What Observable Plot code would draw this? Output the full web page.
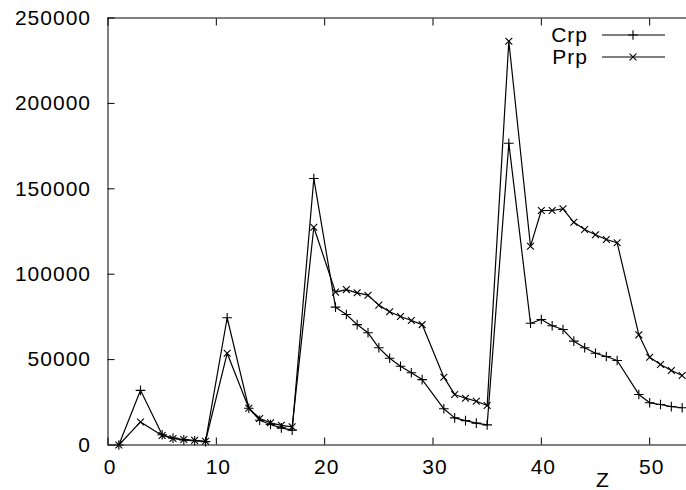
<!DOCTYPE html>
<html>
<head>
<meta charset="utf-8">
<script src="https://cdn.jsdelivr.net/npm/d3@7"></script>
<script src="https://cdn.jsdelivr.net/npm/@observablehq/plot@0.6"></script>
<style>
  html, body { margin: 0; padding: 0; background: #fff; }
  #chart svg { font-family: "Liberation Sans", Arial, Helvetica, sans-serif; }
  #chart svg text { letter-spacing: 1px; }
</style>
</head>
<body>
<div id="chart"></div>
<script>
const zValues = [1, 3, 5, 6, 7, 8, 9, 11, 13, 14, 15, 16, 17, 19, 21, 22, 23, 24, 25, 26, 27, 28, 29, 31, 32, 33, 34, 35, 37, 39, 40, 41, 42, 43, 44, 45, 46, 47, 49, 50, 51, 52, 53];
const crpValues = [0, 32000, 6000, 4000, 3000, 2500, 2000, 74500, 21500, 14500, 12000, 10000, 8700, 156000, 80700, 76400, 70500, 65700, 56900, 50800, 46100, 42300, 38300, 21200, 15900, 14300, 12800, 11800, 176700, 71300, 73500, 69800, 67600, 60800, 56900, 53700, 51800, 49500, 29600, 24700, 23700, 22500, 21800];
const prpValues = [0, 13500, 5600, 3800, 3200, 2700, 2200, 53700, 21500, 15500, 13000, 11500, 10600, 127500, 89500, 91000, 89100, 87700, 81900, 78000, 75200, 72900, 70500, 39700, 29600, 27400, 25600, 23100, 236400, 116400, 137300, 137300, 138300, 130400, 126200, 123100, 120300, 118400, 64500, 51400, 47100, 43600, 40700];
const seriesNames = ["Crp", "Prp"];
const seriesSymbols = ["plus", "times"];
const xTicks = [0, 10, 20, 30, 40, 50];
const yTicks = [0, 50000, 100000, 150000, 200000, 250000];
const xLabel = "Z";

const crp = zValues.map((z, i) => ({z, v: crpValues[i]}));
const prp = zValues.map((z, i) => ({z, v: prpValues[i]}));

const chart = Plot.plot({
  width: 686,
  height: 490,
  marginLeft: 107.5,
  marginRight: 0,
  marginTop: 17.5,
  marginBottom: 45.5,
  style: {fontSize: "21px", background: "#fff", color: "#000"},
  x: {domain: [0, 53.4], label: null},
  y: {domain: [0, 250000], label: null},
  marks: [
    Plot.ruleY([0, 250000], {stroke: "#000", strokeWidth: 1}),
    Plot.ruleX([0], {stroke: "#000", strokeWidth: 1}),
    Plot.axisY(yTicks, {tickSize: -7, tickFormat: () => "", strokeWidth: 1}),
    Plot.axisY(yTicks, {tickSize: 0, tickPadding: 17, tickFormat: d => String(d), fontSize: 21}),
    Plot.axisX(xTicks, {anchor: "bottom", tickSize: -7, tickFormat: () => ""}),
    Plot.axisX(xTicks, {anchor: "top", tickSize: -7, tickFormat: () => ""}),
    Plot.axisX(xTicks, {anchor: "bottom", tickSize: 0, tickPadding: 14, dx: 2, tickFormat: d => String(d), fontSize: 21}),
    Plot.line(crp, {x: "z", y: "v", stroke: "#000", strokeWidth: 1.2}),
    Plot.line(prp, {x: "z", y: "v", stroke: "#000", strokeWidth: 1.2}),
    Plot.dot(crp, {x: "z", y: "v", symbol: seriesSymbols[0], r: 3.2, stroke: "#000", strokeWidth: 1.1}),
    Plot.dot(prp, {x: "z", y: "v", symbol: seriesSymbols[1], r: 3.2, stroke: "#000", strokeWidth: 1.1})
  ]
});
document.getElementById("chart").appendChild(chart);

// Legend and axis label (gnuplot-style, top-right inside the plot)
const svg = d3.select(chart);
const legend = svg.append("g").attr("font-size", 21).attr("fill", "#000");
seriesNames.forEach((name, i) => {
  const ly = 35 + i * 22;
  legend.append("text")
    .attr("x", 588).attr("y", ly).attr("dy", "0.35em")
    .attr("text-anchor", "end").text(name);
  legend.append("line")
    .attr("x1", 602).attr("x2", 665).attr("y1", ly).attr("y2", ly)
    .attr("stroke", "#000").attr("stroke-width", 1.2);
  const sym = seriesSymbols[i] === "plus" ? d3.symbolPlus : d3.symbolTimes;
  legend.append("path")
    .attr("transform", `translate(633,${ly})`)
    .attr("d", d3.symbol(sym, 3.2 * 3.2 * Math.PI)())
    .attr("fill", "none").attr("stroke", "#000").attr("stroke-width", 1.1);
});
svg.append("text")
  .attr("x", 603).attr("y", 480).attr("dy", "0.35em")
  .attr("text-anchor", "middle").attr("font-size", 21).attr("fill", "#000")
  .text(xLabel);
</script>
</body>
</html>
